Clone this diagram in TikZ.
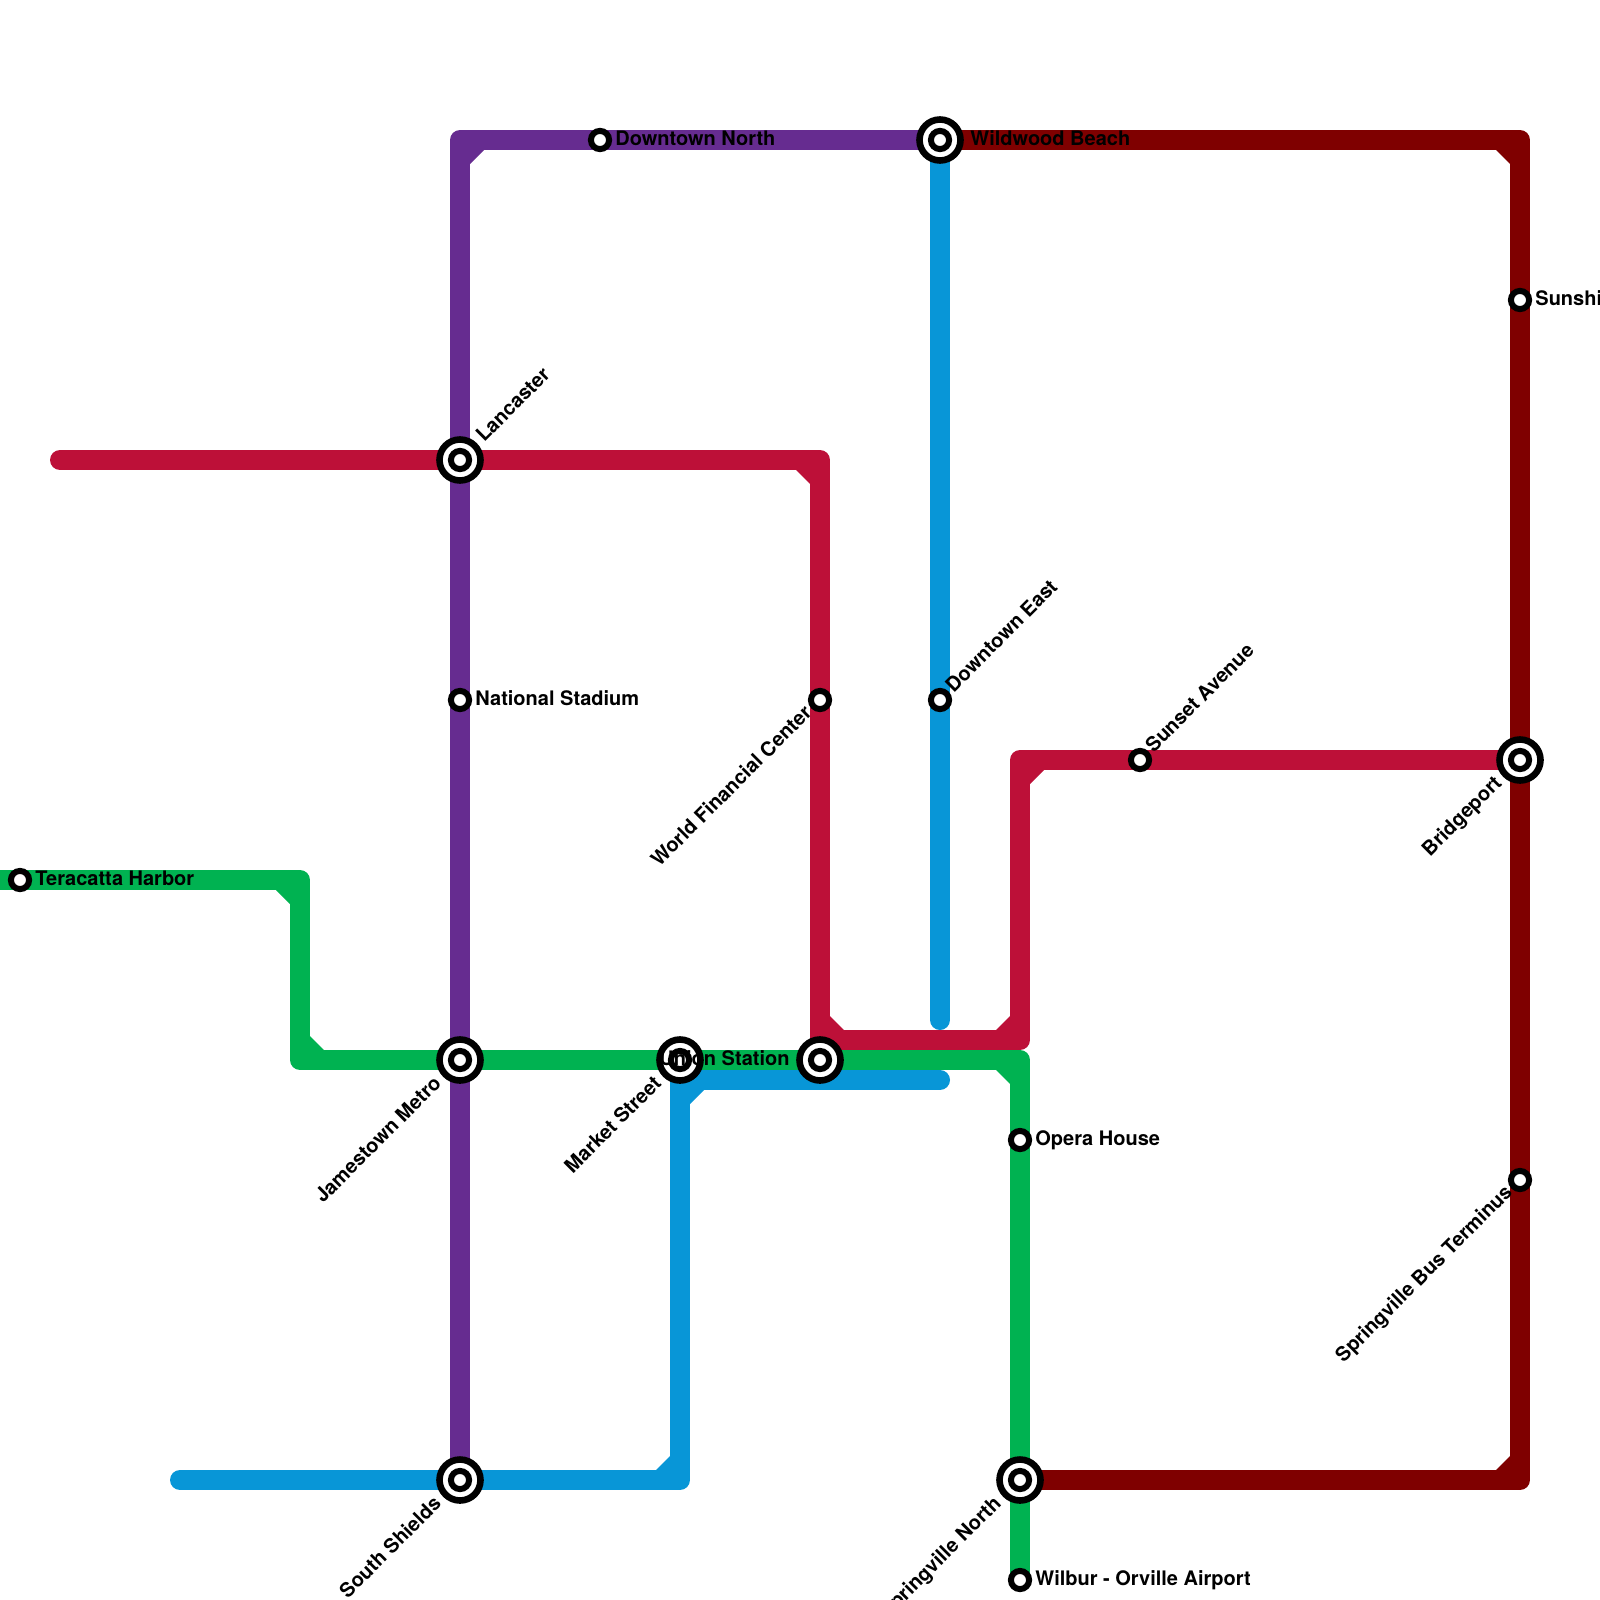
\documentclass[tikz,border=0pt]{standalone}
\usepackage{fontspec}
\setmainfont{TeX Gyre Heros}
\definecolor{lpurple}{HTML}{662C90}
\definecolor{lcrimson}{HTML}{BD1038}
\definecolor{lgreen}{HTML}{00B251}
\definecolor{lblue}{HTML}{0896D7}
\definecolor{ldark}{HTML}{7F0000}
\tikzset{
  metro/.style={line width=10pt,line join=round,line cap=round},
  flat/.style={line width=10pt,line join=round,line cap=butt},
  ministop/.style={circle,draw=black,fill=white,line width=3pt,minimum size=9.1pt,inner sep=0pt,outer sep=0pt},
  bigstop/.style={circle,draw=black,fill=white,line width=3.3pt,minimum size=20.5pt,inner sep=0pt,outer sep=0pt},
  lab/.style={font=\bfseries\fontsize{10pt}{12pt}\selectfont,inner sep=0pt,text=black,text height=7.2pt,text depth=2.2pt},
  labe/.style={lab,anchor=west},
  labup/.style={lab,anchor=west,rotate=45},
  labdn/.style={lab,anchor=east,rotate=45},
}
\begin{document}
\begin{tikzpicture}[x=0.5pt,y=-0.5pt]
\useasboundingbox (0,0) rectangle (1600,1600);
\clip (0,0) rectangle (1600,1600);
% stations
\coordinate (Ter) at (20,880);
\coordinate (Lan) at (460,460);
\coordinate (Nat) at (460,700);
\coordinate (Jam) at (460,1060);
\coordinate (Sou) at (460,1480);
\coordinate (Dno) at (600,140);
\coordinate (Mar) at (680,1060);
\coordinate (Uni) at (820,1060);
\coordinate (Wfc) at (820,700);
\coordinate (Wil) at (940,140);
\coordinate (Dea) at (940,700);
\coordinate (Ope) at (1020,1140);
\coordinate (Spn) at (1020,1480);
\coordinate (Wor) at (1020,1580);
\coordinate (Sun) at (1140,760);
\coordinate (Shi) at (1520,300);
\coordinate (Bri) at (1520,760);
\coordinate (Sbt) at (1520,1180);
% line corners and ends
\coordinate (pA) at (460,140);
\coordinate (cA) at (60,460);
\coordinate (cB) at (820,460);
\coordinate (cC) at (820,1040);
\coordinate (cD) at (1020,1040);
\coordinate (cE) at (1020,760);
\coordinate (gA) at (-20,880);
\coordinate (gB) at (300,880);
\coordinate (gC) at (300,1060);
\coordinate (gD) at (1020,1060);
\coordinate (bA) at (180,1480);
\coordinate (bB) at (680,1480);
\coordinate (bC) at (680,1080);
\coordinate (bD) at (940,1080);
\coordinate (bE) at (940,1020);
\coordinate (dA) at (1520,140);
\coordinate (dB) at (1520,1480);
% dark red
\draw[flat,ldark] (Wil) -- (dA) -- (dB) -- (Spn);
\fill[ldark] (1510,150) -- (1496,150) -- (1510,164) -- cycle;
\fill[ldark] (1510,1470) -- (1496,1470) -- (1510,1456) -- cycle;
% blue
\draw[metro,lblue] (bA) -- (bB) -- (bC) -- (bD);
\draw[metro,lblue] (Wil) -- (bE);
\fill[lblue] (670,1470) -- (656,1470) -- (670,1456) -- cycle;
\fill[lblue] (690,1090) -- (690,1104) -- (704,1090) -- cycle;
% crimson
\draw[metro,lcrimson] (cA) -- (cB) -- (cC) -- (cD) -- (cE) -- (Bri);
\fill[lcrimson] (810,470) -- (796,470) -- (810,484) -- cycle;
\fill[lcrimson] (830,1030) -- (830,1016) -- (844,1030) -- cycle;
\fill[lcrimson] (1010,1030) -- (996,1030) -- (1010,1016) -- cycle;
\fill[lcrimson] (1030,770) -- (1030,784) -- (1044,770) -- cycle;
% green
\draw[flat,lgreen] (gA) -- (gB) -- (gC) -- (gD) -- (Wor);
\fill[lgreen] (290,890) -- (276,890) -- (290,904) -- cycle;
\fill[lgreen] (310,1050) -- (310,1036) -- (324,1050) -- cycle;
\fill[lgreen] (1010,1070) -- (996,1070) -- (1010,1084) -- cycle;
% purple
\draw[flat,lpurple] (Sou) -- (pA) -- (Wil);
\fill[lpurple] (470,150) -- (470,164) -- (484,150) -- cycle;
% station markers
\foreach \s/\n in {Ter/mTer,Nat/mNat,Dno/mDno,Wfc/mWfc,Dea/mDea,Ope/mOpe,Wor/mWor,Sun/mSun,Shi/mShi,Sbt/mSbt}
  \node[ministop] (\n) at (\s) {};
\foreach \s/\n in {Lan/mLan,Jam/mJam,Sou/mSou,Mar/mMar,Uni/mUni,Wil/mWil,Spn/mSpn,Bri/mBri}{
  \node[bigstop] (\n) at (\s) {};
  \node[ministop] (\n i) at (\s) {};
}
% labels
\node[labe] (tTer) at ([xshift=7.5pt,yshift=-0.25pt]Ter) {Teracatta Harbor};
\node[labe] (tNat) at ([xshift=7.5pt,yshift=-0.25pt]Nat) {National Stadium};
\node[labe] (tDno) at ([xshift=7.5pt,yshift=-0.25pt]Dno) {Downtown North};
\node[labe] (tWil) at ([xshift=15pt,yshift=-0.25pt]Wil) {Wildwood Beach};
\node[labe] (tOpe) at ([xshift=7.5pt,yshift=-0.25pt]Ope) {Opera House};
\node[labe] (tWor) at ([xshift=7.5pt,yshift=-0.25pt]Wor) {Wilbur - Orville Airport};
\node[labe] (tShi) at ([xshift=7.5pt,yshift=-0.25pt]Shi) {Sunshine};
\node[lab,anchor=east] (tUni) at ([xshift=-15pt,yshift=-0.25pt]Uni) {Union Station};
\node[labup] (tLan) at ([xshift=10.25pt,yshift=10.25pt]Lan) {Lancaster};
\node[labup] (tDea) at ([xshift=5pt,yshift=5pt]Dea) {Downtown East};
\node[labup] (tSun) at ([xshift=5pt,yshift=5pt]Sun) {Sunset Avenue};
\node[labdn] (tJam) at ([xshift=-10.5pt,yshift=-10.5pt]Jam) {Jamestown Metro};
\node[labdn] (tSou) at ([xshift=-10.5pt,yshift=-10.5pt]Sou) {South Shields};
\node[labdn] (tMar) at ([xshift=-10.5pt,yshift=-10.5pt]Mar) {Market Street};
\node[labdn] (tSpn) at ([xshift=-10.5pt,yshift=-10.5pt]Spn) {Springville North};
\node[labdn] (tBri) at ([xshift=-10.25pt,yshift=-10.25pt]Bri) {Bridgeport};
\node[labdn] (tWfc) at ([xshift=-5.25pt,yshift=-5.25pt]Wfc) {World Financial Center};
\node[labdn] (tSbt) at ([xshift=-5pt,yshift=-5pt]Sbt) {Springville Bus Terminus};
\end{tikzpicture}
\end{document}
